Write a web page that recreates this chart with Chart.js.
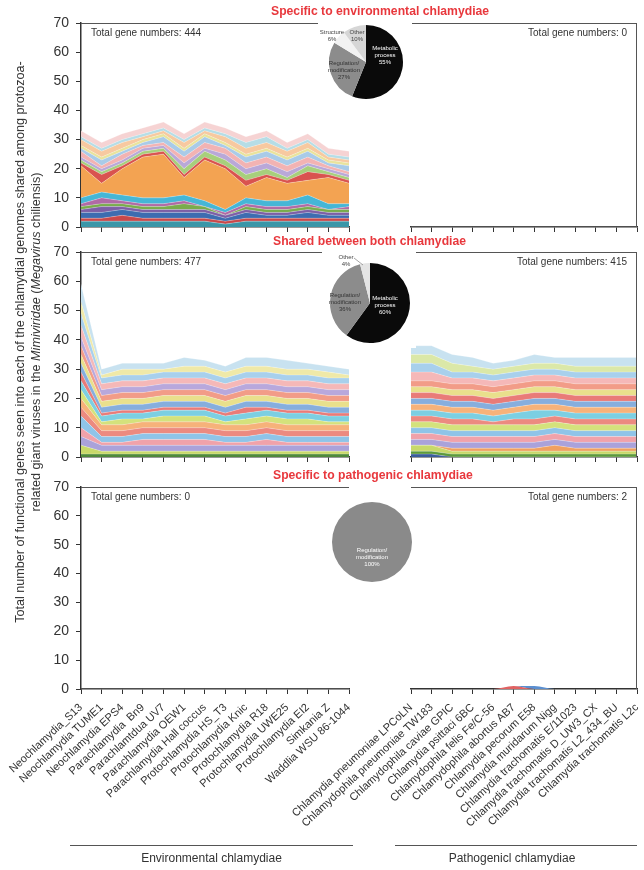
<!DOCTYPE html>
<html><head><meta charset="utf-8">
<script src="https://cdn.jsdelivr.net/npm/chart.js@4.4.1/dist/chart.umd.min.js"></script>
<style>
html,body{margin:0;padding:0;background:#fff;}
#wrap{position:relative;width:644px;height:870px;overflow:hidden;font-family:"Liberation Sans",Arial,Helvetica,sans-serif;color:#333;}
canvas{position:absolute;}
.pie{background:#fff;}
.title{position:absolute;color:#e8383d;font-weight:bold;font-size:12.2px;line-height:16px;white-space:nowrap;}
#ytitle{position:absolute;width:640px;left:-292px;top:326px;height:32px;line-height:16px;font-size:12.6px;text-align:center;transform:rotate(-90deg);white-space:nowrap;color:#333;}
.gline{position:absolute;border-top:1.5px solid #555;height:0;}
.glabel{position:absolute;font-size:12px;line-height:14px;text-align:center;color:#333;}
</style>
</head><body>
<div id="wrap">
  <canvas id="tl" width="360" height="240" style="left:0;top:0"></canvas>
  <canvas id="tr" width="364" height="240" style="left:280px;top:0"></canvas>
  <canvas id="ml" width="360" height="230" style="left:0;top:240px"></canvas>
  <canvas id="mr" width="364" height="230" style="left:280px;top:240px"></canvas>
  <canvas id="bl" width="360" height="400" style="left:0;top:470px"></canvas>
  <canvas id="br" width="364" height="400" style="left:280px;top:470px"></canvas>
  <canvas id="p1" class="pie" width="94" height="92" style="left:318px;top:16px"></canvas>
  <canvas id="p2" class="pie" width="94" height="98" style="left:322px;top:250px"></canvas>
  <canvas id="p3" class="pie" width="92" height="94" style="left:326px;top:495px"></canvas>
  <div class="title" style="left:271px;top:3px">Specific to environmental chlamydiae</div>
  <div class="title" style="left:273px;top:233px">Shared between both chlamydiae</div>
  <div class="title" style="left:273px;top:467px">Specific to pathogenic chlamydiae</div>
  <div id="ytitle">Total number of functional genes seen into each of the chlamydial genomes shared among protozoa-<br>related giant viruses in the <i>Mimiviridae</i> (<i>Megavirus</i> chiliensis)</div>
  <div class="gline" style="left:70px;top:845px;width:283px"></div>
  <div class="glabel" style="left:70px;top:851px;width:283px">Environmental chlamydiae</div>
  <div class="gline" style="left:395px;top:845px;width:242px"></div>
  <div class="glabel" style="left:391px;top:851px;width:242px">Pathogenicl chlamydiae</div>
</div>
<script>
// ---------------- DATA ----------------
const envGenomes = ['Neochlamydia_S13','Neochlamydia TUME1','Neochlamydia EPS4','Parachlamydia  Bn9','Parachlamtdua UV7','Parachlamydia OEW1','Parachlamydia Hall coccus','Protochlamydia HS_T3','Protochlamydia Knic','Protochlamydia R18','Protochlamydia UWE25','Protochlamydia EI2','Simkania Z','Waddlia WSU 86-1044'];
const pathGenomes = ['Chlamydia pneumoniae LPCoLN','Chlamydophila pneumoniae TW183','Chlamydophila caviae GPIC','Chlamydia psittaci 6BC','Chlamydophila felis Fe/C-56','Chlamydophila abortus AB7','Chlamydia pecorum E58','Chlamydia muridarum Nigg','Chlamydia trachomatis E/11023','Chlamydia trachomatis D_UW3_CX','Chlamydia trachomatis L2_434_BU','Chlamydia trachomatis L2c'];
const yTickValues = [0,10,20,30,40,50,60,70];

// Specific to environmental chlamydiae, environmental genomes (stacked series, bottom to top)
const envSpecificEnv = [
  [2,2,2,2,2,2,2,1,2,2,2,2,2,2],
  [1,1,2,1,1,1,1,1,1,1,1,1,1,1],
  [2,2,2,2,2,2,2,1,2,1,1,2,1,1],
  [1,2,1,1,1,1,1,1,1,1,1,1,1,1],
  [1,1,1,1,1,2,1,0,1,1,1,1,1,1],
  [1,2,1,1,1,1,0,1,1,1,1,1,0,1],
  [2,2,2,2,2,2,2,1,2,2,2,3,2,1],
  [11,3,9,14,15,6,14,14,4,8,6,5,9,7],
  [1,3,1,1,1,1,1,1,2,1,1,3,1,1],
  [1,1,1,1,1,2,2,2,2,2,1,2,1,1],
  [1,1,1,1,1,2,1,2,2,2,2,1,1,1],
  [2,1,2,1,1,2,2,2,2,2,2,2,1,1],
  [1,2,1,1,2,2,2,1,2,2,2,2,1,2],
  [1,1,1,1,1,1,1,1,1,1,1,1,1,1],
  [2,2,2,1,1,2,1,2,2,2,2,2,1,1],
  [1,1,1,1,1,1,1,1,2,2,1,1,1,1],
  [2,2,2,2,2,2,2,2,2,2,2,2,2,2]
];
// Specific to environmental chlamydiae, pathogenic genomes
const envSpecificPath = [
  [0,0,0,0,0,0,0,0,0,0,0,0]
];
// Shared between both, environmental genomes
const sharedEnv = [
  [1,1,1,1,1,1,1,1,1,1,1,1,1,1],
  [3,1,1,1,1,1,1,1,1,1,1,1,1,1],
  [3,2,2,2,2,2,2,2,2,2,2,2,2,2],
  [3,1,1,2,2,2,2,1,1,2,1,1,1,1],
  [4,2,2,2,2,2,2,2,2,2,2,2,2,2],
  [3,2,2,2,2,2,2,2,2,2,2,2,2,2],
  [3,2,2,2,2,2,2,2,2,2,2,2,2,2],
  [3,1,2,1,2,2,2,1,2,2,2,2,1,1],
  [3,2,2,2,2,2,2,2,2,2,2,2,2,2],
  [3,1,1,1,1,1,1,1,2,1,1,1,1,1],
  [3,2,2,2,2,2,2,2,2,2,2,2,2,2],
  [3,2,2,2,2,2,2,2,2,2,2,2,2,2],
  [3,2,2,2,2,2,2,2,2,2,2,2,2,2],
  [3,2,2,2,2,2,2,2,2,2,2,2,2,2],
  [4,2,2,2,2,2,2,2,2,2,2,2,2,2],
  [4,2,2,2,2,2,2,2,2,2,2,2,2,2],
  [4,1,2,2,1,2,2,2,2,2,2,2,2,1],
  [6,2,2,2,2,3,2,2,3,3,3,2,2,2]
];
// Shared between both, pathogenic genomes
const sharedPath = [
  [1,1,0,0,0,0,0,0,0,0,0,0],
  [1,1,1,1,1,1,1,1,1,1,1,1],
  [2,2,1,1,1,1,1,1,1,1,1,1],
  [0,0,1,1,1,1,1,2,1,1,1,1],
  [2,2,2,2,2,2,2,2,2,2,2,2],
  [2,2,2,2,2,2,2,2,2,2,2,2],
  [2,2,2,2,2,2,2,2,2,2,2,2],
  [2,2,2,2,2,2,2,2,2,2,2,2],
  [2,2,2,2,1,2,2,2,2,2,2,2],
  [2,2,2,2,2,2,3,2,2,2,2,2],
  [2,2,2,2,2,2,2,2,2,2,2,2],
  [2,2,2,2,2,2,2,2,2,2,2,2],
  [2,2,2,2,2,2,2,2,2,2,2,2],
  [2,2,2,2,2,2,2,2,2,2,2,2],
  [2,2,2,2,2,2,2,2,2,2,2,2],
  [3,3,2,2,2,2,2,2,2,2,2,2],
  [3,3,2,2,2,2,2,2,2,2,2,2],
  [3,3,3,2,2,2,2,2,2,2,2,2],
  [3,3,3,3,2,2,3,2,3,3,3,3]
];
// Specific to pathogenic chlamydiae
const pathSpecificEnv = [
  [0,0,0,0,0,0,0,0,0,0,0,0,0,0]
];
const pathSpecificPath = [
  [0,0,0,0,0,1,0,0,0,0,0,0],
  [0,0,0,0,0,0,1,0,0,0,0,0]
];
// Functional category pies (%)
const pieEnvLabels = ['Metabolic process','Regulation/ modification','Structure','Other'];
const pieEnvValues = [55,27,6,10];
const pieSharedLabels = ['Metabolic process','Regulation/ modification','Other'];
const pieSharedValues = [60,36,4];
const piePathLabels = ['Regulation/ modification'];
const piePathValues = [100];

// ---------------- STYLE ----------------
const FONT = '"Liberation Sans", Arial, Helvetica, sans-serif';
Chart.defaults.font.family = FONT;
const colEnvSpecific = ['#3a96a8','#c9484a','#3d6cb0','#7d5fa6','#79ac4c','#b06aa6','#45b6d6','#f3a352','#d9534f','#a7cf7c','#b9a8d8','#f2b3b3','#a9cbe8','#e9e39c','#f7c9a0','#b6dde6','#f6d3d3'];
const colSharedEnv = ['#4f8a3a','#c8d96a','#aaa2da','#f0a2aa','#8fc4e8','#ec8a80','#f6b27a','#d4e27c','#7ccfe2','#e97b78','#86aedd','#e9e08c','#f29c88','#b8a8dc','#f5b8b8','#a8d0ec','#efe9a8','#c8e2f0'];
const colSharedPath = ['#3b5c9c','#5d9a3c','#c8d96a','#f0a060','#aaa2da','#f0a2aa','#8fc4e8','#d4e27c','#ec8a80','#7ccfe2','#f6b27a','#86aedd','#e97b78','#e9e08c','#f29c88','#f5b8b8','#a8d0ec','#dbe8a8','#c8e2f0'];
const colPathSpecific = ['#e06262','#5b8fd0'];
const colZero = ['#cccccc'];

const framePlugin = {
  id: 'frame',
  afterDraw(chart, args, o) {
    const ctx = chart.ctx, a = chart.chartArea;
    ctx.save();
    ctx.strokeStyle = '#555'; ctx.lineWidth = 1;
    ctx.beginPath();
    ctx.moveTo(a.left, a.top + 0.5); ctx.lineTo(a.right, a.top + 0.5);
    if (o.right) { ctx.moveTo(a.right - 0.5, a.top); ctx.lineTo(a.right - 0.5, a.bottom); }
    ctx.stroke();
    ctx.fillStyle = '#333'; ctx.font = '10px ' + FONT; ctx.textBaseline = 'middle';
    if (o.align === 'left') { ctx.textAlign = 'left'; ctx.fillText(o.text, a.left + 10, a.top + 10); }
    else { ctx.textAlign = 'right'; ctx.fillText(o.text, a.right - 10, a.top + 10); }
    ctx.restore();
  }
};

function total(series) { return series.reduce((s, r) => s + r.reduce((t, v) => t + v, 0), 0); }

function areaChart(id, labels, series, colors, cfg) {
  const datasets = series.map((vals, i) => ({
    data: vals,
    backgroundColor: colors[i % colors.length],
    borderColor: 'rgba(255,255,255,0.45)',
    borderWidth: cfg.smooth ? 0 : 0.6,
    fill: i === 0 ? 'origin' : '-1',
    pointRadius: 0,
    tension: cfg.smooth ? 0.4 : 0,
    cubicInterpolationMode: cfg.smooth ? 'monotone' : 'default'
  }));
  return new Chart(document.getElementById(id), {
    type: 'line',
    data: { labels: labels, datasets: datasets },
    options: {
      responsive: false, animation: false, devicePixelRatio: 1,
      layout: { padding: cfg.pad },
      plugins: { legend: { display: false }, tooltip: { enabled: false },
        frame: { right: cfg.right, align: cfg.right ? 'right' : 'left', text: 'Total gene numbers: ' + total(series) } },
      scales: {
        x: {
          type: 'category', offset: false,
          grid: { drawOnChartArea: false, drawTicks: true, tickLength: 5, color: '#333', lineWidth: 1 },
          border: { display: true, color: '#333', width: 1.5 },
          ticks: { display: cfg.showLabels, autoSkip: false, minRotation: 43, maxRotation: 43,
                   font: { size: 11 }, color: '#333', padding: 7 },
          afterFit(s) { s.height = cfg.xh; s.paddingLeft = 0; s.paddingRight = 0; }
        },
        y: {
          display: cfg.showY, stacked: true, min: 0, max: 70,
          afterBuildTicks(s) { s.ticks = yTickValues.map(v => ({ value: v })); },
          ticks: { font: { size: 14 }, color: '#333', padding: 7 },
          grid: { drawOnChartArea: false, drawTicks: true, tickLength: 5, color: '#333' },
          border: { display: true, color: '#333', width: 1.5 },
          afterFit(s) { s.width = cfg.showY ? 81 : 0; s.paddingTop = 0; s.paddingBottom = 0; }
        }
      }
    },
    plugins: [framePlugin]
  });
}

areaChart('tl', envGenomes, envSpecificEnv, colEnvSpecific, { pad: { left: 0, right: 11, top: 23, bottom: 0 }, xh: 13, showLabels: false, showY: true, right: false });
areaChart('tr', pathGenomes, envSpecificPath, colZero, { pad: { left: 131, right: 7, top: 23, bottom: 0 }, xh: 13, showLabels: false, showY: false, right: true });
areaChart('ml', envGenomes, sharedEnv, colSharedEnv, { pad: { left: 0, right: 11, top: 12, bottom: 0 }, xh: 13, showLabels: false, showY: true, right: false });
areaChart('mr', pathGenomes, sharedPath, colSharedPath, { pad: { left: 131, right: 7, top: 12, bottom: 0 }, xh: 13, showLabels: false, showY: false, right: true });
areaChart('bl', envGenomes, pathSpecificEnv, colZero, { pad: { left: 0, right: 11, top: 17, bottom: 0 }, xh: 181, showLabels: true, showY: true, right: false });
areaChart('br', pathGenomes, pathSpecificPath, colPathSpecific, { pad: { left: 131, right: 7, top: 17, bottom: 0 }, xh: 181, showLabels: true, showY: false, right: true, smooth: true });

// ---------------- PIES ----------------
const pieTextPlugin = {
  id: 'pieText',
  afterDraw(chart, args, o) {
    const ctx = chart.ctx, a = chart.chartArea;
    const cx = (a.left + a.right) / 2, cy = (a.top + a.bottom) / 2;
    ctx.save();
    ctx.font = '6px ' + FONT; ctx.textAlign = 'center'; ctx.textBaseline = 'middle';
    (o.items || []).forEach(it => {
      ctx.fillStyle = it.color;
      const lines = it.text.split('\n');
      lines.forEach((ln, k) => ctx.fillText(ln, cx + it.dx, cy + it.dy + (k - (lines.length - 1) / 2) * 7));
      if (it.leader) {
        ctx.strokeStyle = '#666'; ctx.lineWidth = 0.6;
        ctx.beginPath(); ctx.moveTo(cx + it.leader[0], cy + it.leader[1]); ctx.lineTo(cx + it.leader[2], cy + it.leader[3]); ctx.stroke();
      }
    });
    ctx.restore();
  }
};
function pieChart(id, labels, values, colors, pad, items) {
  return new Chart(document.getElementById(id), {
    type: 'pie',
    data: { labels: labels, datasets: [{ data: values, backgroundColor: colors, borderWidth: 0 }] },
    options: {
      responsive: false, animation: false, devicePixelRatio: 1,
      layout: { padding: pad },
      plugins: { legend: { display: false }, tooltip: { enabled: false }, pieText: { items: items } }
    },
    plugins: [pieTextPlugin]
  });
}
function pieLabel(lbl, val) { return lbl.replace('/ ', '/\n').replace(' process', '\nprocess') + '\n' + val + '%'; }

pieChart('p1', pieEnvLabels, pieEnvValues, ['#0a0a0a', '#8c8c8c', '#f2f2f2', '#d6d6d6'],
  { left: 11, right: 9, top: 9, bottom: 9 },
  [ { text: pieLabel(pieEnvLabels[0], pieEnvValues[0]), dx: 19, dy: -7, color: '#fff' },
    { text: pieLabel(pieEnvLabels[1], pieEnvValues[1]), dx: -22, dy: 8, color: '#333' },
    { text: pieLabel(pieEnvLabels[2], pieEnvValues[2]), dx: -34, dy: -26, color: '#444' },
    { text: pieLabel(pieEnvLabels[3], pieEnvValues[3]), dx: -9, dy: -26, color: '#444' } ]);
pieChart('p2', pieSharedLabels, pieSharedValues, ['#0a0a0a', '#8c8c8c', '#e4e4e4'],
  { left: 8, right: 6, top: 13, bottom: 5 },
  [ { text: pieLabel(pieSharedLabels[0], pieSharedValues[0]), dx: 15, dy: 2, color: '#fff' },
    { text: pieLabel(pieSharedLabels[1], pieSharedValues[1]), dx: -25, dy: -1, color: '#333' },
    { text: pieLabel(pieSharedLabels[2], pieSharedValues[2]), dx: -24, dy: -42, color: '#444', leader: [-16, -45, -7, -38] } ]);
pieChart('p3', piePathLabels, piePathValues, ['#8a8a8a'],
  { left: 6, right: 6, top: 7, bottom: 7 },
  [ { text: pieLabel(piePathLabels[0], piePathValues[0]), dx: 0, dy: 15, color: '#fff' } ]);
</script>
</body></html>
